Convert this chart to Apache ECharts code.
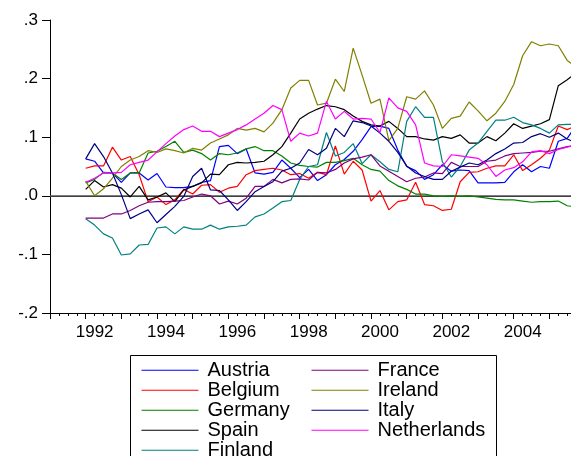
<!DOCTYPE html>
<html><head><meta charset="utf-8">
<script src="https://cdn.jsdelivr.net/npm/echarts@6/dist/echarts.min.js"></script>
<style>html,body{margin:0;padding:0;background:#fff}#c{width:571px;height:456px}</style>
</head><body><div id="c"></div>
<script>
const startYear = 1992; // first observation: 1992Q1, quarterly
const countries = ['Austria','Belgium','Germany','Spain','Finland','France','Ireland','Italy','Netherlands'];
const colors = ['#0000FF','#FF0000','#008000','#000000','#008080','#800080','#808000','#000080','#FF00FF'];
const legendLeft = ['Austria','Belgium','Germany','Spain','Finland'];
const legendRight = ['France','Ireland','Italy','Netherlands'];
const xLabelYears = [1992,1994,1996,1998,2000,2002,2004];

const austria = [0.063,0.059,0.039,0.039,0.023,0.039,0.039,0.027,0.038,0.015,
 0.014,0.014,0.016,0.023,0.026,0.084,0.086,0.072,0.080,0.039,
 0.037,0.040,0.061,0.047,0.031,0.045,0.026,0.036,0.053,0.062,
 0.076,0.096,0.118,0.119,0.115,0.078,0.050,0.043,0.028,0.036,
 0.053,0.042,0.044,0.043,0.022,0.022,0.022,0.023,0.041,0.053,
 0.041,0.050,0.047,0.093,0.098,0.120];
const belgium = [0.047,0.051,0.051,0.083,0.061,0.067,0.036,-0.010,-0.002,-0.015,
 -0.007,0.011,0.003,0.018,0.019,0.006,0.013,0.016,0.036,0.043,
 0.045,0.047,0.044,0.036,0.038,0.030,0.040,0.036,0.085,0.037,
 0.059,0.044,-0.009,0.009,-0.024,-0.010,-0.007,0.023,-0.015,-0.017,
 -0.025,-0.023,0.024,0.040,0.041,0.047,0.051,0.051,0.070,0.043,
 0.053,0.064,0.078,0.119,0.113,0.120];
const germany = [0.022,0.028,0.040,0.039,0.028,0.039,0.039,0.073,0.076,0.084,
 0.093,0.074,0.078,0.072,0.061,0.072,0.070,0.073,0.080,0.084,
 0.077,0.077,0.068,0.056,0.052,0.050,0.049,0.057,0.057,0.060,
 0.064,0.053,0.045,0.042,0.026,0.017,0.011,0.003,0.003,0.000,
 -0.001,0.000,-0.001,0.000,-0.002,-0.004,-0.006,-0.007,-0.007,-0.009,
 -0.011,-0.010,-0.010,-0.009,-0.017,-0.019];
const spain = [0.011,0.026,0.015,0.019,0.013,-0.002,0.016,-0.007,-0.002,0.005,
 -0.010,0.010,0.016,0.022,0.037,0.036,0.053,0.057,0.056,0.057,
 0.059,0.070,0.084,0.107,0.131,0.141,0.148,0.154,0.152,0.147,
 0.136,0.127,0.121,0.119,0.127,0.115,0.101,0.101,0.097,0.095,
 0.101,0.098,0.104,0.090,0.090,0.101,0.094,0.107,0.123,0.115,
 0.119,0.123,0.130,0.188,0.198,0.210];
const finland = [-0.039,-0.050,-0.065,-0.072,-0.101,-0.099,-0.084,-0.083,-0.055,-0.053,
 -0.065,-0.053,-0.057,-0.057,-0.050,-0.057,-0.053,-0.052,-0.050,-0.036,
 -0.031,-0.021,-0.010,-0.008,0.028,0.050,0.053,0.108,0.068,0.074,
 0.089,0.055,0.070,0.058,0.045,0.041,0.127,0.152,0.134,0.134,
 0.058,0.032,0.050,0.078,0.090,0.110,0.129,0.129,0.134,0.125,
 0.121,0.115,0.107,0.121,0.122,0.122];
const france = [-0.038,-0.038,-0.038,-0.031,-0.031,-0.025,-0.017,-0.011,-0.010,-0.010,
 -0.009,-0.008,-0.002,0.003,0.000,-0.014,-0.009,-0.014,-0.004,0.016,
 0.016,0.028,0.022,0.028,0.029,0.027,0.040,0.039,0.045,0.056,
 0.063,0.066,0.070,0.051,0.042,0.033,0.024,0.030,0.032,0.039,
 0.038,0.057,0.050,0.050,0.050,0.059,0.061,0.068,0.072,0.073,
 0.074,0.076,0.076,0.080,0.084,0.086];
const ireland = [0.025,0.000,0.012,0.030,0.050,0.061,0.067,0.077,0.074,0.080,
 0.077,0.073,0.081,0.078,0.090,0.097,0.104,0.115,0.112,0.115,
 0.109,0.124,0.147,0.184,0.197,0.197,0.155,0.158,0.199,0.178,
 0.252,0.206,0.158,0.165,0.094,0.115,0.169,0.165,0.179,0.155,
 0.115,0.132,0.136,0.160,0.145,0.128,0.141,0.161,0.190,0.239,
 0.263,0.256,0.259,0.256,0.231,0.220];
const italy = [0.063,0.089,0.067,0.039,0.002,-0.039,-0.031,-0.024,-0.046,-0.032,
 -0.018,-0.001,0.033,0.047,0.010,0.009,-0.007,-0.025,-0.010,0.007,
 0.016,0.024,0.042,0.047,0.056,0.079,0.070,0.081,0.115,0.101,
 0.128,0.125,0.119,0.107,0.093,0.074,0.051,0.039,0.033,0.028,
 0.028,0.042,0.049,0.056,0.053,0.061,0.072,0.080,0.090,0.091,
 0.101,0.106,0.100,0.107,0.097,0.090];
const netherlands = [0.023,0.030,0.039,0.039,0.040,0.053,0.057,0.061,0.075,0.089,
 0.102,0.113,0.119,0.110,0.110,0.101,0.107,0.113,0.121,0.131,
 0.141,0.154,0.147,0.093,0.107,0.102,0.107,0.161,0.131,0.144,
 0.131,0.132,0.131,0.108,0.167,0.150,0.144,0.121,0.056,0.051,
 0.050,0.070,0.068,0.066,0.064,0.053,0.033,0.044,0.048,0.058,
 0.075,0.077,0.072,0.079,0.083,0.087];

const values = [austria,belgium,germany,spain,finland,france,ireland,italy,netherlands];
const quarterTimes = austria.map((_, i) => startYear + i / 4);

const FONT = "'Liberation Sans', Arial, sans-serif";
const chart = echarts.init(document.getElementById('c'), null, {renderer: 'canvas'});

const series = countries.map((name, k) => ({
  name, type: 'line', xAxisIndex: 0, yAxisIndex: 0,
  data: quarterTimes.map((t, i) => [t, values[k][i]]),
  symbol: 'none', showSymbol: false, clip: true,
  lineStyle: {color: colors[k], width: 1.2},
  itemStyle: {color: colors[k]},
  z: 3 + k,
  emphasis: {disabled: true}
}));
series[0].markLine = {
  silent: true, symbol: ['none','none'], label: {show: false},
  lineStyle: {color: '#555', width: 1.5, type: 'solid'},
  data: [{yAxis: 0}], z: 2
};

function yFmt(v) {
  if (Math.abs(v) < 1e-9) return '.0';
  return v.toFixed(1).replace('0.', '.');
}

const legendCommon = {
  orient: 'vertical', itemWidth: 57, itemHeight: 1.2, itemGap: 0,
  icon: 'rect', height: 140, padding: 0,
  selectedMode: false,
  textStyle: {fontSize: 20, lineHeight: 19.5, fontFamily: FONT, color: '#000', padding: [0,0,0,4]}
};

chart.setOption({
  animation: false,
  backgroundColor: '#fff',
  grid: {left: 50, top: 20, right: 0, bottom: 143, containLabel: false},
  xAxis: [{
    type: 'value', min: 1991, max: 2005.606, interval: 1,
    axisLine: {show: true, onZero: false, lineStyle: {color: '#000', width: 1}},
    axisTick: {show: true, inside: false, length: 6, lineStyle: {color: '#000'}},
    minorTick: {show: true, splitNumber: 4, length: 3, lineStyle: {color: '#000'}},
    splitLine: {show: false}, minorSplitLine: {show: false},
    axisLabel: {
      show: true, margin: 11, fontSize: 17, fontFamily: FONT, color: '#000',
      padding: [0,0,0,18], showMaxLabel: false,
      formatter: v => xLabelYears.indexOf(Math.round(v)) >= 0 && Math.abs(v - Math.round(v)) < 1e-6 ? String(Math.round(v)) : ''
    }
  }, {
    type: 'value', position: 'top', min: 1991, max: 2005.606,
    axisLine: {show: true, lineStyle: {color: '#000', width: 1}},
    axisTick: {show: false}, axisLabel: {show: false}, splitLine: {show: false}
  }],
  yAxis: {
    type: 'value', min: -0.2, max: 0.3, interval: 0.1,
    axisLine: {show: true, onZero: false, lineStyle: {color: '#000', width: 1}},
    axisTick: {show: true, inside: false, length: 8, lineStyle: {color: '#000'}},
    splitLine: {show: false},
    axisLabel: {margin: 12, fontSize: 17, fontFamily: FONT, color: '#000', formatter: yFmt}
  },
  legend: [
    Object.assign({}, legendCommon, {left: 141.5, top: 360.25, data: legendLeft}),
    Object.assign({}, legendCommon, {left: 311.5, top: 360.25, data: legendRight})
  ],
  graphic: [{
    type: 'rect', z: 0, silent: true,
    shape: {x: 130.5, y: 355.5, width: 366, height: 150},
    style: {fill: 'none', stroke: '#000', lineWidth: 1}
  }],
  series
});
</script>
</body></html>
